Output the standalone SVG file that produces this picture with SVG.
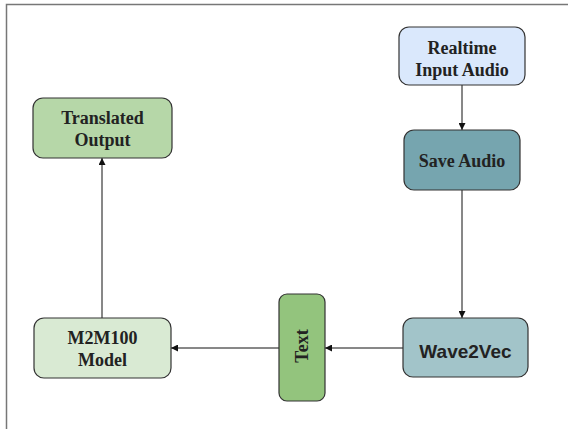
<svg xmlns="http://www.w3.org/2000/svg" width="568" height="429" viewBox="0 0 568 429">
<style>
.box{stroke:#333;stroke-width:1.2}
.t{font-family:"Liberation Serif",serif;font-weight:bold;font-size:18px;fill:#222;text-anchor:middle}
.s{font-family:"Liberation Sans",sans-serif;font-weight:bold;font-size:19px;fill:#222;text-anchor:middle}
.c{stroke:#111;stroke-width:1;fill:none;marker-end:url(#a)}
</style>
<defs>
<marker id="a" viewBox="0 0 10 10" refX="10" refY="5" markerWidth="7" markerHeight="7" markerUnits="userSpaceOnUse" orient="auto">
<path d="M0,0 L10,5 L0,10 Z" fill="#111"/>
</marker>
</defs>
<rect x="0" y="0" width="568" height="429" fill="#fff"/>
<rect x="6.5" y="4.5" width="570" height="440" fill="none" stroke="#777" stroke-width="1.5"/>
<g id="connectors">
<path class="c" d="M462,85 V130"/>
<path class="c" d="M462,190 V318"/>
<path class="c" d="M403,348 H325"/>
<path class="c" d="M279,348 H171"/>
<path class="c" d="M102,318 V158"/>
</g>
<g id="realtime">
<rect class="box" x="399" y="27" width="126" height="58" rx="10" fill="#dae8fc"/>
<text class="t" x="462" y="54">Realtime</text>
<text class="t" x="462" y="76">Input Audio</text>
</g>
<g id="save">
<rect class="box" x="404" y="130" width="116" height="60" rx="10" fill="#76a5af"/>
<text class="t" x="462" y="167">Save Audio</text>
</g>
<g id="wave2vec">
<rect class="box" x="403" y="318" width="125" height="59" rx="10" fill="#a2c4c9"/>
<text class="s" x="465.5" y="358">Wave2Vec</text>
</g>
<g id="text">
<rect class="box" x="279" y="294" width="46" height="107" rx="8" fill="#93c47d"/>
<text class="t" x="0" y="0" transform="translate(308,346) rotate(-90)">Text</text>
</g>
<g id="m2m100">
<rect class="box" x="34" y="318" width="137" height="60" rx="10" fill="#d9ead3"/>
<text class="t" x="102.5" y="344">M2M100</text>
<text class="t" x="102.5" y="366">Model</text>
</g>
<g id="translated">
<rect class="box" x="33" y="98" width="139" height="60" rx="10" fill="#b6d7a8"/>
<text class="t" x="102.5" y="124">Translated</text>
<text class="t" x="102.5" y="146">Output</text>
</g>
</svg>
